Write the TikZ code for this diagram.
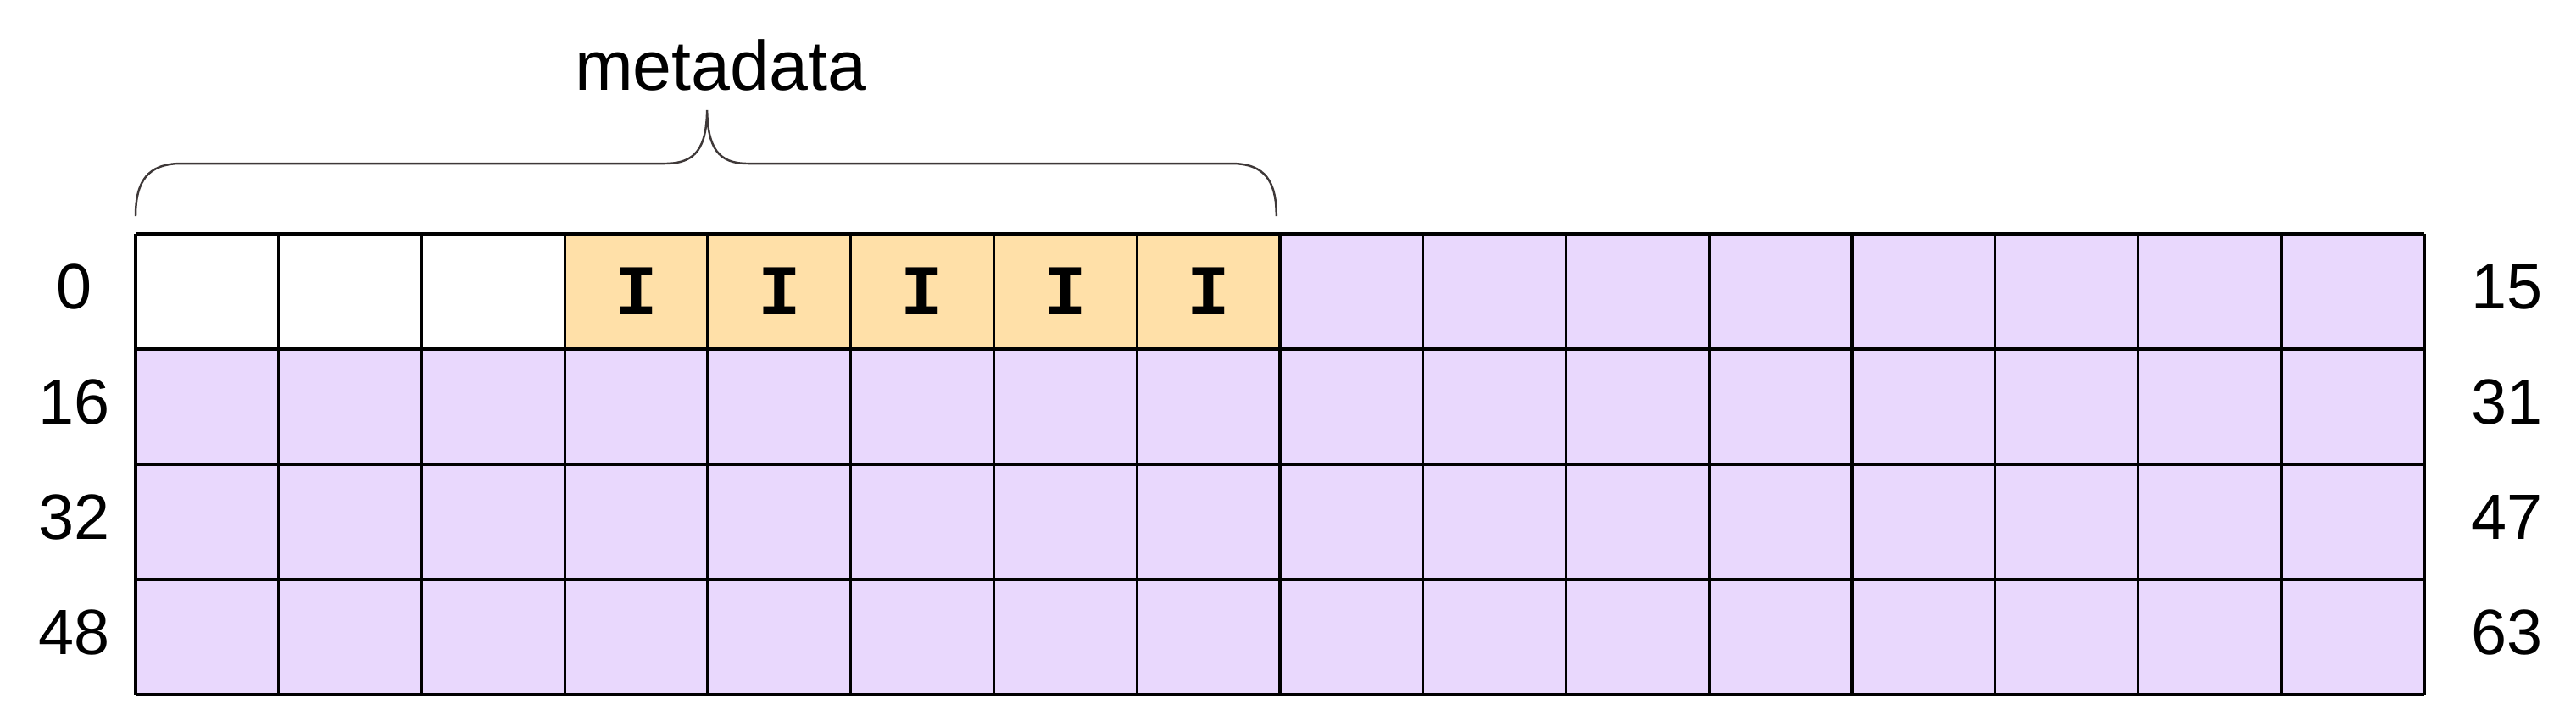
\documentclass[tikz,border=0pt]{standalone}
\usepackage{fontspec}
\setmainfont{Liberation Sans}
\newfontfamily\ibeamfont{Liberation Mono}
\usepackage{tikz}
\usepackage{xcolor}
\definecolor{slotpurple}{RGB}{233,216,253}
\definecolor{slotorange}{RGB}{255,224,168}
\definecolor{bracegray}{RGB}{62,56,56}

\begin{document}
\begin{tikzpicture}[x=1.6875cm, y=1.36cm,
  gridline/.style={line width=0.9pt, black},
  idx/.style={font=\fontsize{21.5}{24}\selectfont, inner sep=0pt},
  imark/.style={font=\ibeamfont\bfseries\fontsize{24}{26}\selectfont, inner sep=0pt},
  bracepath/.style={line width=0.7pt, bracegray}]
  \useasboundingbox (-0.9482,-4.1324) rectangle (17.0607,2.0294);
  % Fills: purple for all slots, first three white, next five orange
  \fill[slotpurple] (0,-4) rectangle (16,0);
  \fill[white] (0,-1) rectangle (3,0);
  \fill[slotorange] (3,-1) rectangle (8,0);
  % The 16 x 4 grid of slots
  \draw[gridline, xstep=1.6875cm, ystep=1.36cm] (0,-4) grid (16,0);

  % Marks in the orange slots
  \node[imark] (mark3) at (3.5,-0.5) {I};
  \node[imark] (mark4) at (4.5,-0.5) {I};
  \node[imark] (mark5) at (5.5,-0.5) {I};
  \node[imark] (mark6) at (6.5,-0.5) {I};
  \node[imark] (mark7) at (7.5,-0.5) {I};

  % Row indices, left and right
  \node[idx] (left0) at (-0.43,-0.46) {0};
  \node[idx] (left1) at (-0.43,-1.46) {16};
  \node[idx] (left2) at (-0.43,-2.46) {32};
  \node[idx] (left3) at (-0.43,-3.46) {48};
  \node[idx] (right0) at (16.575,-0.46) {15};
  \node[idx] (right1) at (16.575,-1.46) {31};
  \node[idx] (right2) at (16.575,-2.46) {47};
  \node[idx] (right3) at (16.575,-3.46) {63};

  % Brace over the first eight slots
  \draw[bracepath] (0,0.154) .. controls (0,0.45) and (0.08,0.61) .. (0.32,0.61)
    -- (3.7,0.61) .. controls (3.92,0.61) and (3.99,0.75) .. (3.995,1.074)
    .. controls (4.0,0.75) and (4.07,0.61) .. (4.28,0.61)
    -- (7.66,0.61) .. controls (7.9,0.61) and (7.975,0.45) .. (7.975,0.154);
  \node[font=\fontsize{23.5}{26}\selectfont, anchor=base] (metalabel) at (4.09,1.243) {metadata};
\end{tikzpicture}
\end{document}
